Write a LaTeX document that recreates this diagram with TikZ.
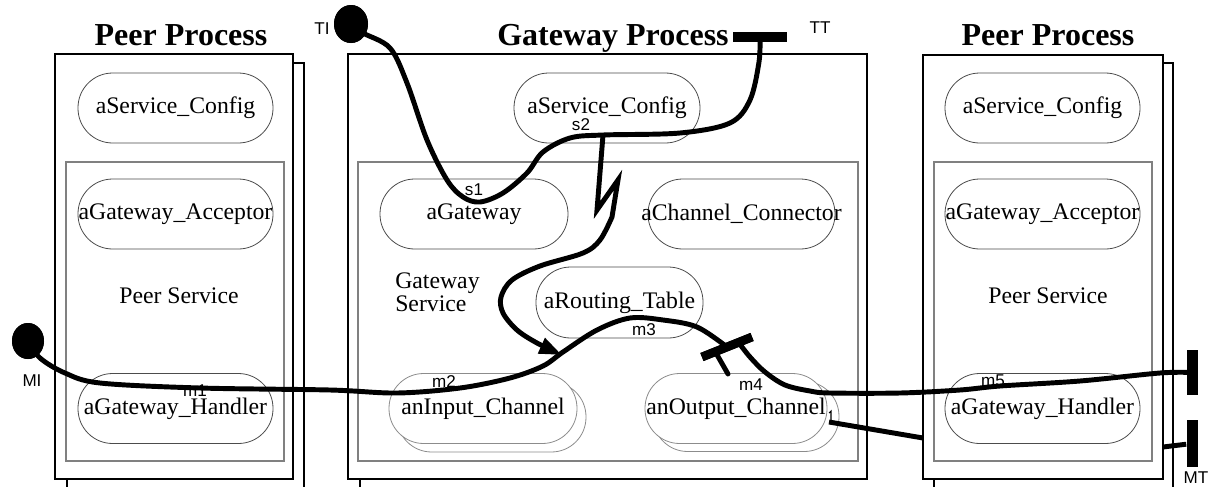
\documentclass[tikz,border=0pt]{standalone}
\usepackage{fontspec}
\setmainfont{Liberation Serif}
\newfontfamily\labelfont{Liberation Sans}
\usetikzlibrary{arrows.meta,shapes.geometric}
\newcommand{\captext}[1]{\makebox[0pt]{#1}}

\begin{document}
\begin{tikzpicture}[x=0.75pt,y=-0.75pt,
  procbox/.style={draw=black, line width=1.1pt, fill=white},
  shadowbox/.style={draw=black, line width=1.1pt},
  svcbox/.style={draw=black!50, line width=0.8pt},
  capsule/.style={draw=black!70, line width=0.6pt, fill=white,
    rounded corners=26pt, minimum width=#1*0.75pt, minimum height=52.5pt,
    inner sep=0pt, font=\fontsize{17.8}{20}\selectfont},
  chancap/.style={capsule=#1, draw=black!45},
  plain/.style={font=\fontsize{17.8}{20}\selectfont, inner sep=0pt},
  title/.style={font=\fontsize{24}{28}\selectfont\bfseries, anchor=base, inner sep=0pt},
  lbl/.style={font=\labelfont\fontsize{12.8}{14}\selectfont, inner sep=0pt},
  ucm/.style={line width=3.7pt, line cap=round, line join=round},
  blob/.style={ellipse, fill=black, inner sep=0pt},
  bar/.style={fill=black, inner sep=0pt},
]
\useasboundingbox (0,0) rectangle (1211,486);
\clip (0,0) rectangle (1211,486);

% ---------- left peer process ----------
\draw[shadowbox] (67,63) rectangle (304,530);
\draw[procbox] (55,54) rectangle (293,479);
\draw[svcbox] (66,162) rectangle (284,461);
\node[title] (lpTitle) at (181,45) {Peer Process};
\node[capsule=195] (lpConfig) at (175.5,108) {\captext{aService\_Config}};
\node[capsule=195] (lpAcceptor) at (175.5,214) {\captext{aGateway\_Acceptor}};
\node[plain] (lpService) at (179,296) {Peer Service};
\node[capsule=195] (lpHandler) at (175.5,408.5) {\captext{aGateway\_Handler}};

% ---------- gateway process ----------
\draw[shadowbox] (360,479) -- (360,500);
\draw[procbox] (348,54) rectangle (867,479);
\draw[svcbox] (358,162) rectangle (858,461);
\node[title] (gwTitle) at (613,45) {Gateway Process};
\node[capsule=186] (gwConfig) at (607,108) {\captext{aService\_Config}};
\node[capsule=188] (gwGateway) at (474,214) {\captext{aGateway}};
\node[capsule=187] (gwConnector) at (741.5,214) {\captext{aChannel\_Connector}};
\node[plain, anchor=north west, align=left,
  font=\fontsize{17.8}{13.5}\selectfont] (gwService) at (395,273) {Gateway\\Service};
\node[capsule=167, minimum height=53.25pt] (gwRouting) at (619.5,302.5) {\captext{aRouting\_Table}};
\node[chancap=189] (gwInputB) at (491.5,417) {};
\node[chancap=188] (gwInput) at (483,408.5) {\captext{anInput\_Channel}};
\node[chancap=186] (gwOutputB) at (746,416.5) {};
\node[chancap=182] (gwOutput) at (736,408.5) {\captext{anOutput\_Channel}};

% ---------- right peer process ----------
\draw[shadowbox] (934,63) rectangle (1173,530);
\draw[procbox] (923,55) rectangle (1163,479);
\draw[svcbox] (934,162) rectangle (1152,461);
\node[title] (rpTitle) at (1048,45) {Peer Process};
\node[capsule=195] (rpConfig) at (1042.5,108) {\captext{aService\_Config}};
\node[capsule=195] (rpAcceptor) at (1042.5,214) {\captext{aGateway\_Acceptor}};
\node[plain] (rpService) at (1048,296) {Peer Service};
\node[capsule=195] (rpHandler) at (1042.5,408.5) {\captext{aGateway\_Handler}};

% ---------- path end points ----------
\node[blob, minimum width=25.5pt, minimum height=28.5pt] (TIblob) at (351,24) {};
\node[blob, minimum width=24pt, minimum height=27pt] (MIblob) at (28,341) {};
\node[bar, minimum width=40.5pt, minimum height=7.5pt] (TTbar) at (760,37) {};
\node[bar, minimum width=40.5pt, minimum height=6.5pt, rotate=21.8] (fork) at (727,347) {};
\node[bar, minimum width=8.25pt, minimum height=33.75pt] (MTbarA) at (1192,372.5) {};
\node[bar, minimum width=8.25pt, minimum height=35.25pt] (MTbarB) at (1192,443.5) {};
\coordinate (forkL) at (716,353);
\coordinate (forkR) at (739,343);
\coordinate (m4end) at (728,374);
\coordinate (s2pt) at (603,135);
\coordinate (outStart) at (829,422);
\coordinate (rpIn) at (923,438);
\coordinate (rpOut) at (1163,447);

% ---------- TI -> TT path ----------
\draw[ucm] plot[smooth, tension=0.55] coordinates {
  (TIblob) (363,33) (390,48) (407,83) (427,140) (447,180) (463,197)
  (480,202) (503,193) (527,173) (543,152) (570,138) (s2pt) (680,133)
  (730,123) (750,100) (759,62) (TTbar)};

% ---------- branch from aService_Config down to anInput_Channel ----------
\draw[ucm, line cap=butt, line join=miter, -{Triangle[length=17pt,width=12pt]}]
  (s2pt) -- (597,210) -- (618,180) -- plot[smooth, tension=0.55] coordinates {
  (612,217) (600,240) (583,253) (540,266) (512,280) (501,297) (503,313)
  (517,330) (537,343) (562,355)};

% ---------- MI -> fork path ----------
\draw[ucm] plot[smooth, tension=0.55] coordinates {
  (MIblob) (40,358) (65,373) (100,383) (200,388) (330,390) (397,393)
  (460,388) (510,378) (543,366) (563,352) (597,330) (630,318) (663,320)
  (697,327) (fork)};
\draw[ucm] (forkL) -- (m4end);
\draw[ucm] plot[smooth, tension=0.55] coordinates {
  (forkR) (750,357) (765,372) (785,385) (810,391) (830,393) (900,393)
  (960,390) (1000,386) (1080,381) (1160,373) (MTbarA)};

% ---------- anOutput_Channel -> MT path ----------
\draw[line width=0.8pt] (831,421) -- (831,411) -- (829,413);
\draw[ucm, line cap=butt] (outStart) -- (rpIn);
\draw[ucm, line cap=butt] (rpOut) -- (MTbarB);

% redraw end markers on top
\node[blob, minimum width=25.5pt, minimum height=28.5pt] at (TIblob) {};
\node[blob, minimum width=24pt, minimum height=27pt] at (MIblob) {};
\node[bar, minimum width=40.5pt, minimum height=7.5pt] at (TTbar) {};
\node[bar, minimum width=40.5pt, minimum height=6.5pt, rotate=21.8] at (fork) {};

% ---------- labels ----------
\node[lbl] (lTI) at (322,29) {TI};
\node[lbl] (lTT) at (820,28) {TT};
\node[lbl] (lMI) at (32,381) {MI};
\node[lbl] (lMT) at (1196,478) {MT};
\node[lbl] (ls1) at (474,190) {s1};
\node[lbl] (ls2) at (581,125) {s2};
\node[lbl] (lm1) at (195,391) {m1};
\node[lbl] (lm2) at (444,382) {m2};
\node[lbl] (lm3) at (644,330) {m3};
\node[lbl] (lm4) at (751,385) {m4};
\node[lbl] (lm5) at (993,381) {m5};
\end{tikzpicture}
\end{document}
